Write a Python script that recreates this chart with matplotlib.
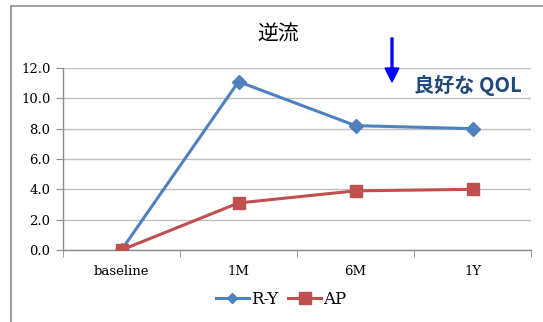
import matplotlib
matplotlib.use("Agg")
import matplotlib.pyplot as plt
from matplotlib.patches import Rectangle, FancyArrow
from matplotlib.lines import Line2D

categories = ["baseline", "1M", "6M", "1Y"]
ry_values = [0.0, 11.1, 8.2, 8.0]
ap_values = [0.0, 3.1, 3.9, 4.0]
y_ticks = [0.0, 2.0, 4.0, 6.0, 8.0, 10.0, 12.0]

BLUE = "#4F81BD"
RED = "#C0504D"
GRID = "#BFBFBF"
SERIF = ["DejaVu Serif"]
CJK = ["Noto Sans CJK JP", "DejaVu Sans"]

W, H = 543, 322
fig = plt.figure(figsize=(W / 100, H / 100), dpi=100)
fig.patch.set_facecolor("white")

def fx(px):
    return px / W

def fy(py):
    return 1 - py / H

# outer chart frame
frame = Rectangle((fx(11), fy(340)), fx(600), fy(6) - fy(340),
                  transform=fig.transFigure, fill=False,
                  edgecolor="#8C8C8C", linewidth=1.2, clip_on=False)
fig.add_artist(frame)

ax = fig.add_axes([fx(63), fy(250), fx(531) - fx(63), fy(68) - fy(250)])
x = list(range(len(categories)))

ax.plot(x, ry_values, color=BLUE, linewidth=2.2, marker="D", markersize=7,
        zorder=3, label="R-Y")
ax.plot(x, ap_values, color=RED, linewidth=2.2, marker="s", markersize=8.5,
        zorder=3, label="AP")

ax.set_xlim(-0.5, len(categories) - 0.5)
ax.set_ylim(0, 12)
ax.set_yticks(y_ticks)
ax.set_yticklabels([f"{v:.1f}" for v in y_ticks], fontfamily=SERIF, fontsize=9.5)
ax.set_xticks(x)
ax.set_xticklabels(categories, fontfamily=SERIF, fontsize=9.5)
ax.set_xticks([i - 0.5 for i in range(len(categories) + 1)], minor=True)
ax.tick_params(axis="x", which="major", length=0, pad=11)
ax.tick_params(axis="x", which="minor", length=5, color="#8C8C8C", direction="out")
ax.tick_params(axis="y", length=5, color="#8C8C8C", direction="out", pad=4)

ax.grid(axis="y", color=GRID, linewidth=1.0)
ax.set_axisbelow(True)
for side in ("top", "right"):
    ax.spines[side].set_visible(False)
for side in ("left", "bottom"):
    ax.spines[side].set_color("#8C8C8C")
    ax.spines[side].set_linewidth(1.0)

fig.text(fx(278), fy(34), "逆流", ha="center", va="center",
         fontfamily=CJK, fontsize=15)

arrow = FancyArrow(fx(392), fy(38), 0, fy(82) - fy(38),
                   width=0.0035, head_width=fx(14), head_length=(fy(68) - fy(82)),
                   length_includes_head=True, color="#0000FF",
                   transform=fig.transFigure)
fig.add_artist(arrow)

fig.text(fx(414), fy(85), "良好な QOL", ha="left", va="center",
         fontfamily=CJK, fontsize=14.5, fontweight="bold", color="#1F497D",
         bbox=dict(facecolor="white", edgecolor="none", pad=1))

handles = [
    Line2D([], [], color=BLUE, linewidth=2.2, marker="D", markersize=5.5),
    Line2D([], [], color=RED, linewidth=2.2, marker="s", markersize=8),
]
fig.legend(handles, ["R-Y", "AP"], loc="center", bbox_to_anchor=(fx(281), fy(299)),
           ncol=2, frameon=False, prop={"family": SERIF, "size": 12},
           handlelength=2.0, handletextpad=0.1, columnspacing=0.6)

fig.savefig("out.png", dpi=100, facecolor="white")
